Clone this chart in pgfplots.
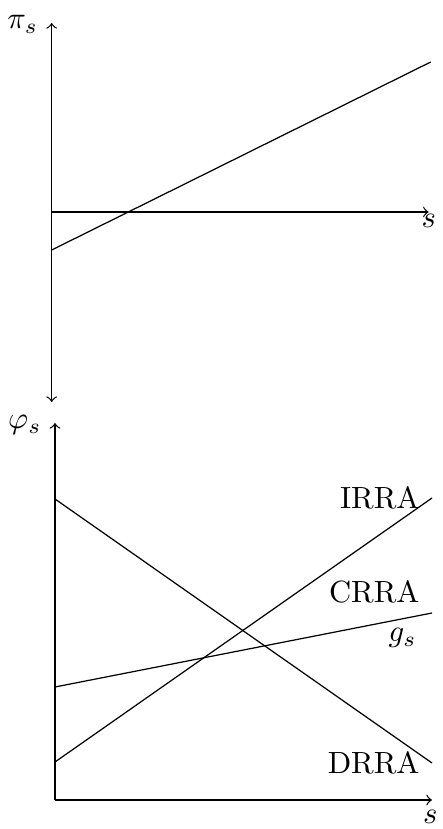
\documentclass[border=0pt]{standalone}
\usepackage{pgfplots}
\pgfplotsset{compat=1.18}
\begin{document}
\begin{tikzpicture}[>=to]
\def\u{0.326pt}
\useasboundingbox (0,0) rectangle ({442*\u},{829*\u});
% profit as a function of s
\begin{axis}[
  at={({51.7*\u},{427*\u})}, anchor=south west,
  x=\u, y=\u, scale only axis,
  axis lines=middle, enlargelimits=false, clip=false,
  xmin=0, xmax=377, ymin=-190, ymax=189,
  xtick=\empty, ytick=\empty,
  x axis line style={->},
  y axis line style={<->},
  axis line style={line width=0.4pt},
]
\addplot[black, line width=0.4pt] coordinates {(0,-38) (379,150)};
\node[anchor=base east, inner sep=0pt] at (axis cs:-13,183) {$\pi_s$};
\node[anchor=base east, inner sep=0pt] at (axis cs:385,-16) {$s$};
\end{axis}
% relative risk aversion cases
\begin{axis}[
  at={({55*\u},{29*\u})}, anchor=south west,
  x=\u, y=\u, scale only axis,
  axis lines=left, enlargelimits=false, clip=false,
  xmin=0, xmax=377, ymin=0, ymax=377,
  xtick=\empty, ytick=\empty,
  axis line style={->, line width=0.4pt},
]
\addplot[black, line width=0.4pt] coordinates {(0,301) (377,37)};
\addplot[black, line width=0.4pt] coordinates {(0,38) (377,302)};
\addplot[black, line width=0.4pt] coordinates {(0,113) (377,187)};
\node[anchor=base east, inner sep=0pt] at (axis cs:365,291) {IRRA};
\node[anchor=base east, inner sep=0pt] at (axis cs:365,198) {CRRA};
\node[anchor=base east, inner sep=0pt] at (axis cs:362,158) {$g_s$};
\node[anchor=base east, inner sep=0pt] at (axis cs:365,27) {DRRA};
\node[anchor=base east, inner sep=0pt] at (axis cs:-13,371) {$\varphi_s$};
\node[anchor=base east, inner sep=0pt] at (axis cs:383,-24) {$s$};
\end{axis}
\end{tikzpicture}
\end{document}
